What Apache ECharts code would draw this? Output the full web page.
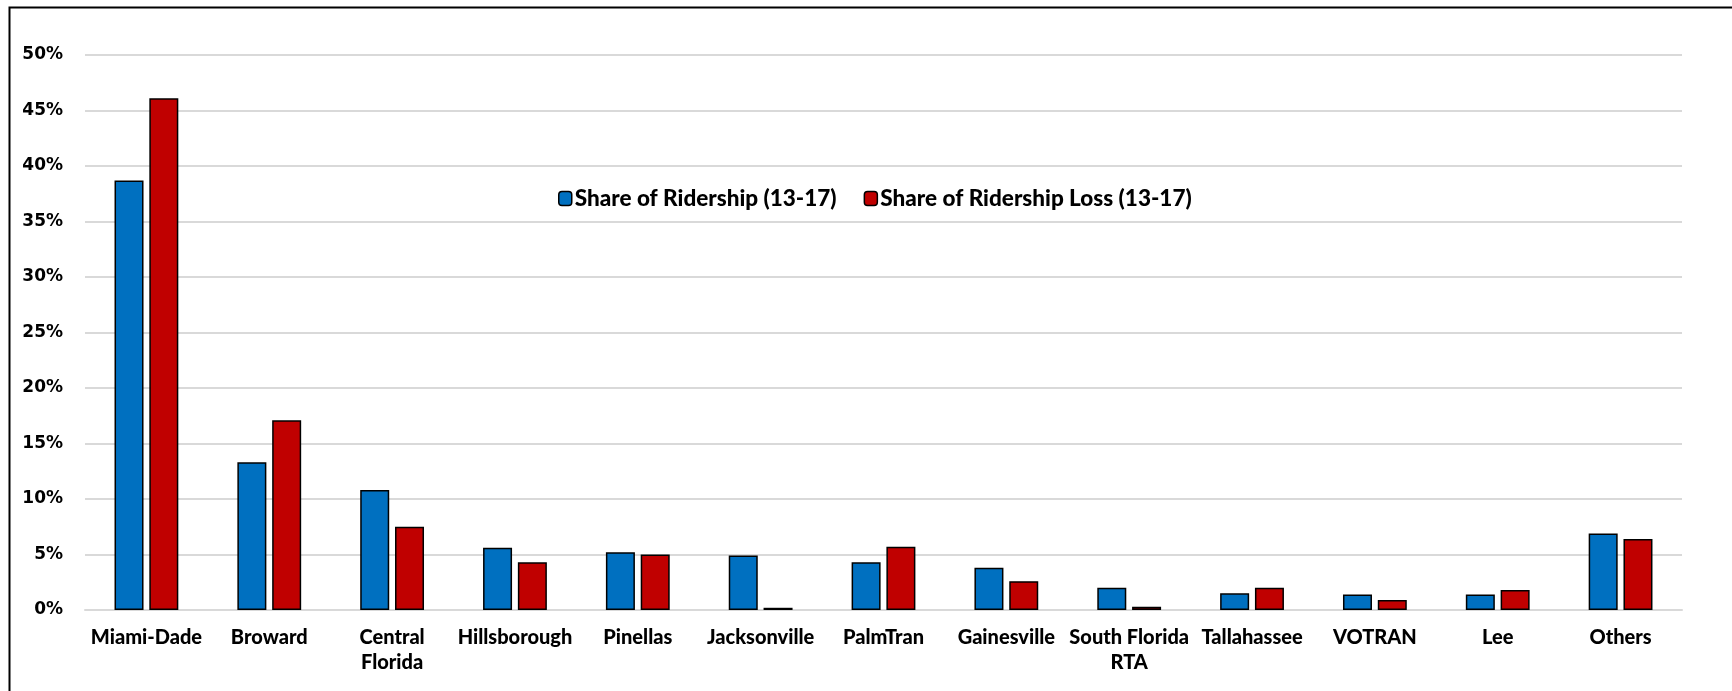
<!DOCTYPE html>
<html>
<head>
<meta charset="utf-8">
<script src="https://cdn.jsdelivr.net/npm/echarts@6/dist/echarts.min.js"></script>
<style>
html,body{margin:0;padding:0;background:#fff;}
#chart{width:1732px;height:691px;}
</style>
</head>
<body>
<div id="chart"></div>
<script>
const categories = ['Miami-Dade','Broward','Central\nFlorida','Hillsborough','Pinellas','Jacksonville','PalmTran','Gainesville','South Florida\nRTA','Tallahassee','VOTRAN','Lee','Others'];
const shareRidership = [38.7, 13.3, 10.8, 5.6, 5.2, 4.9, 4.3, 3.8, 2.0, 1.5, 1.4, 1.4, 6.9];
const shareLoss = [46.1, 17.1, 7.5, 4.3, 5.0, 0.2, 5.7, 2.6, 0.3, 2.0, 0.9, 1.8, 6.4];
const seriesNames = ['Share of Ridership (13-17)', 'Share of Ridership Loss (13-17)'];
const yTicks = [0, 5, 10, 15, 20, 25, 30, 35, 40, 45, 50];

const chart = echarts.init(document.getElementById('chart'));
const barStyle = (c) => ({ color: c, borderColor: '#000', borderWidth: 1.5 });
chart.setOption({
  animation: false,
  backgroundColor: '#fff',
  graphic: [{
    type: 'rect', left: 7, top: 5, shape: { width: 1800, height: 800 },
    style: { fill: 'none', stroke: '#000', lineWidth: 2 }, silent: true
  }],
  legend: {
    data: seriesNames,
    left: 553, top: 182,
    itemWidth: 13, itemHeight: 14, itemGap: 27,
    itemStyle: { borderWidth: 1.5, borderColor: '#000' },
    textStyle: { fontFamily: 'Lato', fontWeight: 900, fontSize: 22.5, color: '#000', padding: [0, 0, 0, -2] }
  },
  grid: { left: 85, right: 50, top: 55, bottom: 81 },
  xAxis: {
    type: 'category', data: categories,
    axisLine: { lineStyle: { color: '#D9D9D9', width: 2 } },
    axisTick: { show: false },
    axisLabel: { interval: 0, fontFamily: 'Lato', fontWeight: 900, fontSize: 20, color: '#000', margin: 15, lineHeight: 25 }
  },
  yAxis: {
    type: 'value', min: yTicks[0], max: yTicks[yTicks.length - 1], interval: 5,
    axisLine: { show: false }, axisTick: { show: false },
    splitLine: { lineStyle: { color: '#D9D9D9', width: 2 } },
    axisLabel: { formatter: '{value}%', fontFamily: 'DejaVu Sans', fontWeight: 'bold', fontSize: 17, color: '#000', margin: 22 }
  },
  series: [
    { name: seriesNames[0], type: 'bar', data: shareRidership, barWidth: 29, barGap: '20%', itemStyle: barStyle('#0070C0') },
    { name: seriesNames[1], type: 'bar', data: shareLoss, barWidth: 29, barGap: '20%', itemStyle: barStyle('#C00000') }
  ]
});
</script>
</body>
</html>
